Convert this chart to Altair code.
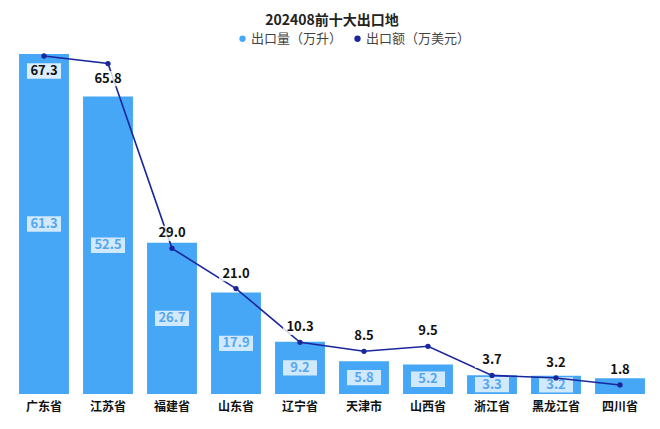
import altair as alt
import pandas as pd

regions = ["广东省", "江苏省", "福建省", "山东省", "辽宁省", "天津市", "山西省", "浙江省", "黑龙江省", "四川省"]
volume = [61.3, 52.5, 26.7, 17.9, 9.2, 5.8, 5.2, 3.3, 3.2, 2.8]   # 出口量（万升）
amount = [67.3, 65.8, 29.0, 21.0, 10.3, 8.5, 9.5, 3.7, 3.2, 1.8]  # 出口额（万美元）
series = ["出口量（万升）", "出口额（万美元）"]

BAR_MAX = 60
LINE_MAX = 67.7
FONT = "Noto Sans CJK SC"
BAR_COLOR = "#45a7f5"
LINE_COLOR = "#1a269c"

df = pd.DataFrame({"region": regions, "volume": volume, "amount": amount})
df["s_bar"] = series[0]
df["s_line"] = series[1]

x = alt.X("region:N", sort=regions, title=None,
          scale=alt.Scale(paddingInner=0.22, paddingOuter=0.11),
          axis=alt.Axis(labelAngle=0, ticks=False, domain=False, labelPadding=7,
                        labelFont=FONT, labelFontSize=12, labelFontWeight="bold",
                        labelColor="#111"))

color_scale = alt.Scale(domain=series, range=[BAR_COLOR, LINE_COLOR])

ybar = alt.Y("volume:Q", axis=None, scale=alt.Scale(domain=[0, BAR_MAX], clamp=True))
ybarmid = alt.Y("mid:Q", axis=None, scale=alt.Scale(domain=[0, BAR_MAX], clamp=True))
yline = alt.Y("amount:Q", axis=None, scale=alt.Scale(domain=[0, LINE_MAX]))

base = alt.Chart(df)

bars = base.mark_bar(color=BAR_COLOR).encode(
    x=x, y=ybar,
    color=alt.Color("s_bar:N", scale=color_scale,
                    legend=alt.Legend(title=None, orient="none", direction="horizontal",
                                      legendX=224, legendY=-22, symbolType="circle",
                                      symbolSize=40, labelFont=FONT, labelFontSize=13,
                                      labelColor="#444", columnPadding=8, labelOffset=2,
                                      values=series))
)

box_shape = "M-1,-0.45L1,-0.45L1,0.45L-1,0.45Z"
barlab = base.transform_filter("datum.volume >= 3").transform_calculate(
    mid="min(datum.volume, %d) / 2" % BAR_MAX)
bar_box = barlab.mark_point(shape=box_shape, filled=True, color="#ffffff", opacity=0.75,
                            size=34 * 34, strokeWidth=0).encode(x=x, y=ybarmid)
bar_txt = barlab.mark_text(font=FONT, fontSize=13, color="#55a6f0", fontWeight="bold",
                           baseline="middle").encode(
    x=x, y=ybarmid, text=alt.Text("volume:Q", format=".1f"))

bars_layer = alt.layer(bars, bar_box, bar_txt)

line = base.mark_line(color=LINE_COLOR, strokeWidth=1.6).encode(x=x, y=yline)
pts = base.mark_point(filled=True, size=28, opacity=1).encode(
    x=x, y=yline,
    color=alt.Color("s_line:N", scale=color_scale, legend=None))

hi = base.transform_filter("datum.amount > 60")
lo = base.transform_filter("datum.amount <= 60")
hi_box = hi.mark_point(shape=box_shape, filled=True, color="#ffffff", opacity=0.8,
                       size=34 * 34, strokeWidth=0, yOffset=15).encode(x=x, y=yline)
hi_txt = hi.mark_text(font=FONT, fontSize=13, fontWeight="bold", color="#111",
                      baseline="middle", dy=15).encode(
    x=x, y=yline, text=alt.Text("amount:Q", format=".1f"))
lo_box = lo.mark_point(shape=box_shape, filled=True, color="#ffffff", opacity=0.8,
                       size=34 * 34, strokeWidth=0, yOffset=-15).encode(x=x, y=yline)
lo_txt = lo.mark_text(font=FONT, fontSize=13, fontWeight="bold", color="#111",
                      baseline="middle", dy=-15).encode(
    x=x, y=yline, text=alt.Text("amount:Q", format=".1f"))

line_layer = alt.layer(line, pts, hi_box, lo_box, hi_txt, lo_txt)

chart = alt.layer(bars_layer, line_layer).resolve_scale(y="independent").properties(
    width=640, height=340,
    title=alt.Title("202408前十大出口地", font=FONT, fontSize=14, fontWeight="bold",
                    color="#222", anchor="middle", offset=4),
    autosize=alt.AutoSizeParams(type="none"),
    padding={"left": 4, "top": 46, "right": 0, "bottom": 30},
).configure(font=FONT, view=alt.ViewConfig(stroke=None))

chart.save("out.html", embed_options={"renderer": "svg", "actions": False})
